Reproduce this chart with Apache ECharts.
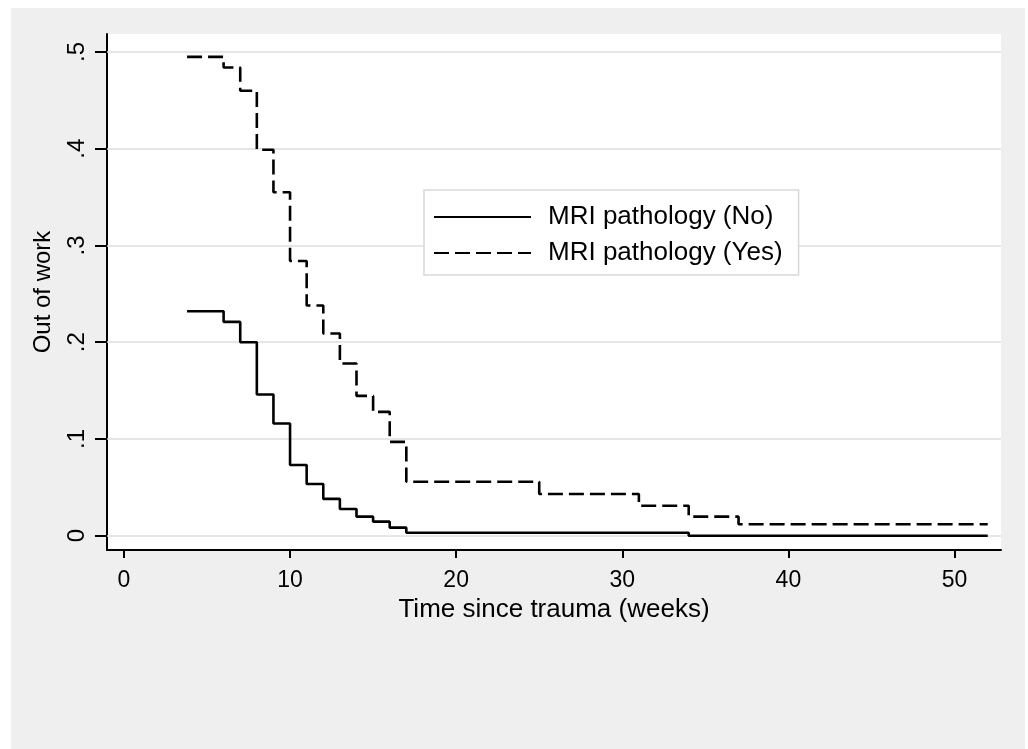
<!DOCTYPE html>
<html><head><meta charset="utf-8">
<script src="https://cdn.jsdelivr.net/npm/echarts@6/dist/echarts.min.js"></script>
<style>html,body{margin:0;padding:0;background:#fff}#c{width:1028px;height:749px}</style>
</head><body><div id="c"></div>
<script>
// Kaplan-Meier style step data
const weeksNo  = [3.8, 6, 7, 8, 9, 10, 11, 12, 13, 14, 15, 16, 17, 34, 52];
const outNo    = [0.232, 0.221, 0.200, 0.146, 0.116, 0.073, 0.0535, 0.038, 0.0276, 0.0197, 0.0145, 0.0083, 0.0031, 0.0, 0.0];
const weeksYes = [3.8, 6, 7, 8, 9, 10, 11, 12, 13, 14, 15, 16, 17, 25, 31, 34, 37, 52];
const outYes   = [0.495, 0.484, 0.460, 0.399, 0.355, 0.284, 0.238, 0.209, 0.178, 0.1445, 0.128, 0.097, 0.0558, 0.0431, 0.031, 0.0197, 0.0118, 0.0118];
const xTicks = [0, 10, 20, 30, 40, 50];
const yTicks = [0, 0.1, 0.2, 0.3, 0.4, 0.5];
const yTickLabels = ['0', '.1', '.2', '.3', '.4', '.5'];
const seriesNames = ['MRI pathology (No)', 'MRI pathology (Yes)'];
const xTitle = 'Time since trauma (weeks)';
const yTitle = 'Out of work';

const FONT = '"Liberation Sans", Arial, Helvetica, sans-serif';
const zip = (xs, ys) => xs.map((x, i) => [x, ys[i]]);

const chart = echarts.init(document.getElementById('c'), null, {renderer: 'canvas'});
chart.setOption({
  animation: false,
  backgroundColor: '#efefef',
  graphic: [
    {type: 'rect', shape: {x: 0, y: 0, width: 11, height: 749}, style: {fill: '#fff'}, silent: true},
    {type: 'rect', shape: {x: 0, y: 0, width: 1028, height: 8}, style: {fill: '#fff'}, silent: true},
    {type: 'rect', shape: {x: 1025, y: 0, width: 3, height: 749}, style: {fill: '#fff'}, silent: true}
  ],
  grid: {left: 107, right: 27, top: 34, bottom: 199, show: true, backgroundColor: '#ffffff', borderWidth: 0, containLabel: false},
  legend: {
    left: 424, top: 190, orient: 'vertical',
    backgroundColor: '#ffffff', borderColor: '#d9d9d9', borderWidth: 1.5,
    padding: [12, 16, 7, 9], itemGap: 6, itemWidth: 97, itemHeight: 4,
    itemStyle: {color: 'rgba(0,0,0,0)', borderWidth: 0, opacity: 0},
    textStyle: {fontFamily: FONT, fontSize: 26, color: '#000', lineHeight: 30, padding: [0, 0, 0, 12]},
    data: seriesNames
  },
  xAxis: {
    type: 'value', min: -1.02, max: 52.8,
    name: xTitle, nameLocation: 'middle', nameGap: 38,
    nameTextStyle: {fontFamily: FONT, fontSize: 26, color: '#000'},
    axisLine: {show: true, onZero: false, lineStyle: {color: '#000', width: 2}},
    axisTick: {show: true, customValues: xTicks, length: 8, lineStyle: {color: '#000', width: 2}},
    axisLabel: {customValues: xTicks, margin: 19, fontFamily: FONT, fontSize: 23, color: '#000', formatter: v => String(v)},
    splitLine: {show: false}
  },
  yAxis: {
    type: 'value', min: -0.0148, max: 0.5186,
    name: yTitle, nameLocation: 'middle', nameGap: 52, nameRotate: 90,
    nameTextStyle: {fontFamily: FONT, fontSize: 24, color: '#000'},
    axisLine: {show: true, onZero: false, lineStyle: {color: '#000', width: 2}},
    axisTick: {show: true, customValues: yTicks, length: 12, lineStyle: {color: '#000', width: 2}},
    axisLabel: {customValues: yTicks, rotate: 90, margin: 18, fontFamily: FONT, fontSize: 24, color: '#000',
      formatter: v => { const i = yTicks.findIndex(t => Math.abs(t - v) < 1e-9); return i >= 0 ? yTickLabels[i] : ''; }},
    splitLine: {show: false}
  },
  series: [
    {
      name: 'grid', type: 'line', data: [], z: 1, silent: true,
      markLine: {
        z: 1, silent: true, symbol: ['none', 'none'], label: {show: false}, animation: false,
        lineStyle: {color: '#dedede', type: 'solid', width: 1.5},
        data: yTicks.map(v => ({yAxis: v}))
      }
    },
    {
      name: seriesNames[0], type: 'line', step: 'end', symbol: 'none', z: 10,
      lineStyle: {color: '#000', width: 2.6, type: 'solid'}, itemStyle: {color: '#000'},
      data: zip(weeksNo, outNo)
    },
    {
      name: seriesNames[1], type: 'line', step: 'end', symbol: 'none', z: 10,
      lineStyle: {color: '#000', width: 2.6, type: [15, 6]}, itemStyle: {color: '#000'},
      data: zip(weeksYes, outYes)
    }
  ]
});
</script>
</body></html>
